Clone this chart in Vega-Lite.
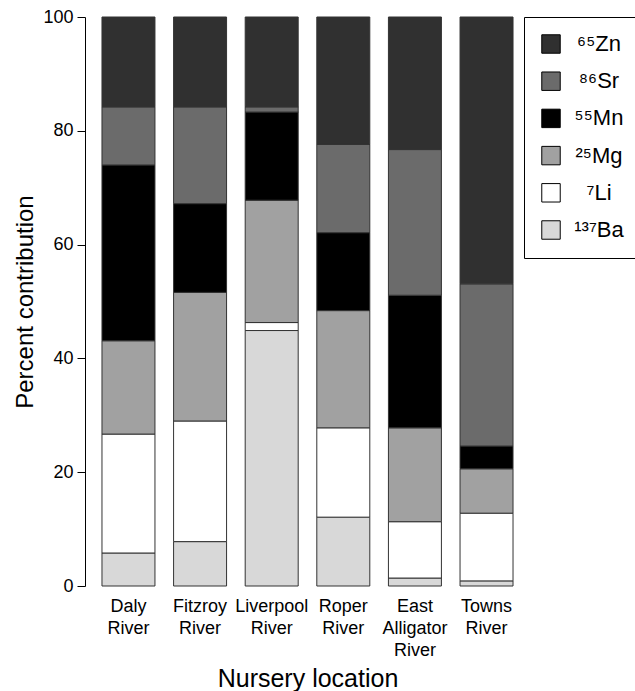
{
  "$schema": "https://vega.github.io/schema/vega-lite/v6.json",
  "autosize": {"type": "none"},
  "padding": {"left": 85, "top": 17, "right": 105, "bottom": 105},
  "width": 445,
  "height": 569,
  "background": "white",
  "config": {"font": "Liberation Sans", "view": {"stroke": null}},
  "data": {"values": [
    {"loc": "Daly River", "el": "¹³⁷Ba", "ord": 1, "v": 5.8},
    {"loc": "Daly River", "el": "⁷Li", "ord": 2, "v": 20.9},
    {"loc": "Daly River", "el": "²⁵Mg", "ord": 3, "v": 16.4},
    {"loc": "Daly River", "el": "⁵⁵Mn", "ord": 4, "v": 30.9},
    {"loc": "Daly River", "el": "⁸⁶Sr", "ord": 5, "v": 10.2},
    {"loc": "Daly River", "el": "⁶⁵Zn", "ord": 6, "v": 15.8},
    {"loc": "Fitzroy River", "el": "¹³⁷Ba", "ord": 1, "v": 7.8},
    {"loc": "Fitzroy River", "el": "⁷Li", "ord": 2, "v": 21.2},
    {"loc": "Fitzroy River", "el": "²⁵Mg", "ord": 3, "v": 22.6},
    {"loc": "Fitzroy River", "el": "⁵⁵Mn", "ord": 4, "v": 15.6},
    {"loc": "Fitzroy River", "el": "⁸⁶Sr", "ord": 5, "v": 17.0},
    {"loc": "Fitzroy River", "el": "⁶⁵Zn", "ord": 6, "v": 15.8},
    {"loc": "Liverpool River", "el": "¹³⁷Ba", "ord": 1, "v": 44.9},
    {"loc": "Liverpool River", "el": "⁷Li", "ord": 2, "v": 1.4},
    {"loc": "Liverpool River", "el": "²⁵Mg", "ord": 3, "v": 21.5},
    {"loc": "Liverpool River", "el": "⁵⁵Mn", "ord": 4, "v": 15.5},
    {"loc": "Liverpool River", "el": "⁸⁶Sr", "ord": 5, "v": 0.9},
    {"loc": "Liverpool River", "el": "⁶⁵Zn", "ord": 6, "v": 15.8},
    {"loc": "Roper River", "el": "¹³⁷Ba", "ord": 1, "v": 12.1},
    {"loc": "Roper River", "el": "⁷Li", "ord": 2, "v": 15.7},
    {"loc": "Roper River", "el": "²⁵Mg", "ord": 3, "v": 20.6},
    {"loc": "Roper River", "el": "⁵⁵Mn", "ord": 4, "v": 13.7},
    {"loc": "Roper River", "el": "⁸⁶Sr", "ord": 5, "v": 15.5},
    {"loc": "Roper River", "el": "⁶⁵Zn", "ord": 6, "v": 22.4},
    {"loc": "East Alligator River", "el": "¹³⁷Ba", "ord": 1, "v": 1.4},
    {"loc": "East Alligator River", "el": "⁷Li", "ord": 2, "v": 9.9},
    {"loc": "East Alligator River", "el": "²⁵Mg", "ord": 3, "v": 16.5},
    {"loc": "East Alligator River", "el": "⁵⁵Mn", "ord": 4, "v": 23.3},
    {"loc": "East Alligator River", "el": "⁸⁶Sr", "ord": 5, "v": 25.6},
    {"loc": "East Alligator River", "el": "⁶⁵Zn", "ord": 6, "v": 23.3},
    {"loc": "Towns River", "el": "¹³⁷Ba", "ord": 1, "v": 0.9},
    {"loc": "Towns River", "el": "⁷Li", "ord": 2, "v": 11.9},
    {"loc": "Towns River", "el": "²⁵Mg", "ord": 3, "v": 7.8},
    {"loc": "Towns River", "el": "⁵⁵Mn", "ord": 4, "v": 4.0},
    {"loc": "Towns River", "el": "⁸⁶Sr", "ord": 5, "v": 28.5},
    {"loc": "Towns River", "el": "⁶⁵Zn", "ord": 6, "v": 46.9}
  ]},
  "mark": {"type": "bar", "stroke": "#333333", "strokeWidth": 1, "opacity": 1},
  "encoding": {
    "x": {
      "field": "loc", "type": "nominal",
      "sort": ["Daly River", "Fitzroy River", "Liverpool River", "Roper River", "East Alligator River", "Towns River"],
      "scale": {"paddingInner": 0.26, "paddingOuter": 0.237},
      "axis": {
        "title": "Nursery location", "titleFontSize": 25, "titleFontWeight": "normal", "titleColor": "black", "titlePadding": 7,
        "labelAngle": 0, "labelFontSize": 18, "labelColor": "black", "labelPadding": 11, "labelLineHeight": 22,
        "labelExpr": "split(datum.label, ' ')",
        "domain": false, "ticks": false
      }
    },
    "y": {
      "field": "v", "type": "quantitative", "stack": "zero",
      "scale": {"domain": [0, 100], "nice": false},
      "axis": {
        "title": "Percent contribution", "titleFontSize": 24, "titleFontWeight": "normal", "titleColor": "black", "titlePadding": 5,
        "values": [0, 20, 40, 60, 80, 100], "grid": false,
        "labelFontSize": 18, "labelColor": "black", "labelPadding": 4,
        "tickSize": 8, "tickColor": "black", "domainColor": "black", "tickWidth": 1, "domainWidth": 1
      }
    },
    "color": {
      "field": "el", "type": "nominal",
      "scale": {
        "domain": ["⁶⁵Zn", "⁸⁶Sr", "⁵⁵Mn", "²⁵Mg", "⁷Li", "¹³⁷Ba"],
        "range": ["#303030", "#6b6b6b", "#000000", "#a1a1a1", "#ffffff", "#d8d8d8"]
      },
      "legend": {
        "title": null, "orient": "none", "legendX": 439, "legendY": 0,
        "strokeColor": "black", "fillColor": "white", "padding": 16,
        "symbolType": "square", "symbolSize": 340, "symbolStrokeColor": "black", "symbolStrokeWidth": 1, "symbolOpacity": 1,
        "labelFontSize": 22, "labelColor": "black", "labelOffset": 37, "labelAlign": "center", "rowPadding": 13.2, "labelLimit": 200
      }
    },
    "order": {"field": "ord", "type": "quantitative"}
  }
}
